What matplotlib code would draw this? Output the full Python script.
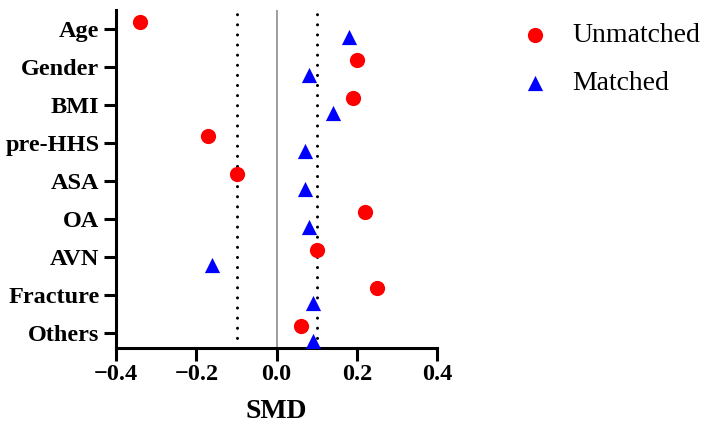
import numpy as np
import matplotlib.pyplot as plt

categories = ["Age", "Gender", "BMI", "pre-HHS", "ASA", "OA", "AVN", "Fracture", "Others"]
unmatched = [-0.34, 0.20, 0.19, -0.17, -0.10, 0.22, 0.10, 0.25, 0.06]
matched = [0.18, 0.08, 0.14, 0.07, 0.07, 0.08, -0.16, 0.09, 0.09]
x_ticks = [-0.4, -0.2, 0.0, 0.2, 0.4]

plt.rcParams["font.family"] = ["Liberation Serif", "DejaVu Serif"]

# category positions, Age on top
ypos = np.arange(len(categories))[::-1] + 1

fig = plt.figure(figsize=(7.04, 4.4), dpi=100)
ax = fig.add_axes([0.165, 0.21, 0.456, 0.767])

ax.axvline(0, color="#8c8c8c", lw=1.2, zorder=1)
for v in (-0.1, 0.1):
    ax.axvline(v, color="black", lw=2.2, linestyle=(0, (0.01, 3.3)),
               dash_capstyle="round", zorder=1)

ax.scatter(unmatched, ypos + 0.2, s=120, marker="o", color="#ff0000",
           label="Unmatched", zorder=3, linewidths=0)
ax.scatter(matched, ypos - 0.2, s=120, marker="^", color="#0000ff",
           label="Matched", zorder=3, linewidths=0)

ax.set_xlim(-0.4, 0.4)
ax.set_ylim(0.62, 9.5)
ax.set_xticks(x_ticks)
ax.set_xticklabels(["\u22120.4", "\u22120.2", "0.0", "0.2", "0.4"],
                   fontsize=17.5, fontweight="bold")
ax.set_yticks(ypos)
ax.set_yticklabels(categories, fontsize=17.5, fontweight="bold")
ax.set_xlabel("SMD", fontsize=20, fontweight="bold", labelpad=10)

for side in ("top", "right"):
    ax.spines[side].set_visible(False)
for side in ("left", "bottom"):
    ax.spines[side].set_linewidth(2.2)
ax.tick_params(axis="both", width=2.2, length=9, pad=3)

ax.legend(loc="upper left", bbox_to_anchor=(0.704, 1.005),
          bbox_transform=fig.transFigure, frameon=False, fontsize=20,
          handlelength=1.0, handletextpad=0.85, labelspacing=0.82,
          markerscale=1.0)

fig.savefig("out.png", dpi=100)
